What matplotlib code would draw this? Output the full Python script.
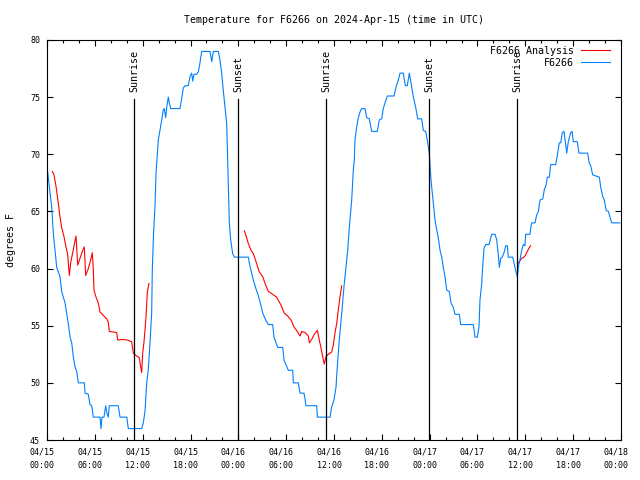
import numpy as np
import matplotlib
matplotlib.use('Agg')
import matplotlib.pyplot as plt
from matplotlib.transforms import ScaledTranslation

# hours since 2024-04-15 00:00 UTC, temperature in degrees F
obs_hours = [0.0, 0.38, 0.59, 0.79, 1.0, 1.22, 1.63, 1.84, 2.26, 2.47, 2.67, 2.89, 3.1, 3.3,
             3.51, 3.73, 3.93, 4.68, 4.77, 5.18, 5.39, 5.61, 5.81, 6.65, 6.77, 6.9, 7.15, 7.36,
             7.53, 7.69, 7.81, 8.94, 9.16, 10.0, 10.2, 11.88, 12.08, 12.29, 12.51, 12.71, 12.92,
             13.13, 13.21, 13.36, 13.55, 13.67, 13.84, 13.96, 14.17, 14.39, 14.59, 14.71, 14.89,
             15.01, 15.22, 15.34, 15.52, 16.68, 16.9, 17.1, 17.31, 17.72, 17.94, 18.15, 18.28,
             18.44, 18.78, 18.98, 19.19, 19.4, 20.45, 20.66, 20.86, 21.49, 21.7, 21.91, 22.11,
             22.33, 22.54, 22.62, 22.74, 22.87, 23.04, 23.29, 23.5, 25.25, 25.46, 25.68, 25.88,
             26.18, 26.43, 26.72, 27.06, 27.43, 27.76, 28.31, 28.47, 28.94, 29.57, 29.73, 30.27,
             30.82, 30.9, 31.52, 31.74, 32.24, 32.49, 33.83, 33.91, 35.5, 35.71, 36.0, 36.25,
             36.41, 36.67, 36.97, 37.25, 37.51, 37.72, 37.92, 38.22, 38.42, 38.55, 38.63, 38.85,
             39.05, 39.26, 39.48, 39.89, 40.1, 40.43, 40.73, 41.43, 41.68, 41.98, 42.18, 42.4,
             42.69, 43.53, 43.78, 44.07, 44.28, 44.69, 44.95, 45.19, 45.45, 45.75, 45.95, 46.25,
             46.5, 47.0, 47.2, 47.5, 47.7, 47.95, 48.17, 48.46, 48.67, 48.88, 49.08, 49.3, 49.51,
             49.71, 49.92, 50.14, 50.46, 50.68, 50.96, 51.18, 51.72, 51.89, 53.47, 53.69, 53.98,
             54.19, 54.31, 54.53, 54.65, 54.82, 55.03, 55.44, 55.66, 55.78, 56.2, 56.41, 56.61,
             56.74, 56.91, 57.11, 57.33, 57.54, 57.74, 57.86, 58.42, 58.58, 58.83, 58.99, 59.17,
             59.33, 59.54, 59.75, 59.96, 60.04, 60.59, 60.67, 60.8, 61.21, 61.43, 61.63, 61.84,
             62.18, 62.38, 62.59, 62.76, 63.01, 63.18, 63.81, 64.01, 64.26, 64.44, 64.64, 64.85,
             65.02, 65.19, 65.39, 65.69, 65.86, 66.02, 66.52, 66.73, 67.82, 68.02, 68.2, 68.45,
             69.28, 69.46, 69.71, 69.91, 70.13, 70.41, 70.62, 70.83, 71.87]
obs_temp = [69.0, 66.6, 65.4, 63.1, 61.6, 60.1, 59.3, 58.0, 57.0, 56.1, 55.2, 54.0, 53.5, 52.3,
            51.4, 51.0, 50.0, 50.0, 49.1, 49.0, 48.1, 48.0, 47.0, 47.0, 46.0, 47.0, 47.0, 48.0,
            47.3, 47.0, 48.0, 48.0, 47.0, 47.0, 46.0, 46.0, 46.5, 47.5, 50.0, 51.2, 53.5,
            56.1, 59.9, 63.0, 65.5, 68.3, 70.1, 71.25, 72.1, 73.0, 73.9, 74.0, 73.2,
            74.1, 75.0, 74.5, 74.0, 74.0, 74.9, 75.8, 76.0, 76.0, 76.8, 77.1, 76.4,
            77.0, 77.0, 77.2, 78.0, 79.0, 79.0, 78.1, 79.0, 79.0, 78.2, 77.1, 75.6,
            74.1, 72.7, 70.6, 67.5, 64.0, 62.5, 61.3, 61.0, 61.0, 60.2, 59.6, 59.0,
            58.3, 57.8, 57.1, 56.1, 55.5, 55.1, 55.1, 54.0, 53.1, 53.1, 52.0, 51.1,
            51.1, 50.0, 50.0, 49.1, 49.1, 48.0, 48.0, 47.0, 47.0, 47.9, 48.5, 49.6,
            51.4, 53.8, 56.1, 58.4, 60.2, 61.6, 63.6, 66.0, 68.6, 69.5, 71.25, 72.4,
            73.2, 73.7, 74.0, 74.0, 73.2, 73.1, 72.0, 72.0, 73.0, 73.1, 74.0, 74.5,
            75.1, 75.1, 75.9, 76.5, 77.1, 77.1, 76.0, 76.0, 77.1, 75.9, 75.0, 74.1,
            73.1, 73.1, 72.1, 72.0, 71.25, 70.1, 67.75, 65.7, 64.25, 63.4, 62.7, 61.6, 61.0,
            60.1, 59.3, 58.1, 58.0, 57.0, 56.6, 56.0, 56.0, 55.1, 55.1, 54.0, 54.0,
            54.9, 57.25, 58.7, 60.2, 61.8, 62.1, 62.1, 62.7, 63.0, 63.0, 62.5, 61.2,
            60.1, 60.9, 61.0, 61.4, 62.0, 62.0, 61.0, 61.0, 60.5, 59.7, 59.3, 60.3,
            60.75, 61.6, 62.1, 62.0, 63.0, 63.0, 63.5, 64.0, 64.0, 64.7, 65.0, 66.0,
            66.1, 66.9, 67.3, 68.0, 68.0, 69.1, 69.1, 69.9, 71.0, 71.0, 71.9, 72.0,
            71.1, 70.1, 71.1, 71.9, 72.0, 71.1, 71.1, 70.1, 70.1, 69.2, 69.0, 68.2,
            68.0, 67.1, 66.3, 66.0, 65.1, 65.0, 64.5, 64.0, 64.0]

# analysis runs (NaN separates the three runs)
ana_hours = [0.66, 0.88, 1.13, 1.42, 1.63, 1.84, 2.13, 2.38, 2.6, 2.8, 2.97, 3.17, 3.42, 3.64,
             3.85, 4.14, 4.48, 4.68, 4.85, 5.18, 5.48, 5.68, 5.81, 5.9, 6.15, 6.43, 6.65, 7.06,
             7.49, 7.69, 7.81, 8.74, 8.87, 9.37, 10.07, 10.62, 10.83, 11.25, 11.58, 11.75, 11.88,
             12.0, 12.17, 12.29, 12.42, 12.58, 12.79, np.nan,
             24.75, 24.96, 25.25, 25.59, 25.88, 26.22, 26.63, 27.06, 27.35, 27.76, 28.19, 28.81,
             29.35, 29.77, 30.19, 30.61, 30.98, 31.4, 31.74, 31.95, 32.36, 32.78, 32.9, 33.2,
             33.49, 33.91, 34.16, 34.37, 34.66, 34.78, 35.0, 35.29, 35.71, 35.91, 36.13, 36.34,
             36.54, 36.75, 36.97, np.nan,
             58.99, 59.24, 59.54, 59.83, 60.04, 60.25, 60.46, 60.67]
ana_temp = [68.5, 68.2, 67.2, 65.7, 64.5, 63.6, 62.8, 61.9, 61.2, 59.4, 60.5, 61.2, 62.1, 62.85,
            60.3, 60.9, 61.6, 61.9, 59.4, 60.0, 60.75, 61.4, 59.9, 58.1, 57.5, 57.0, 56.2, 55.9,
            55.6, 55.3, 54.5, 54.4, 53.75, 53.8, 53.75, 53.6, 52.6, 52.35, 52.2, 51.4, 50.9,
            52.6, 53.6, 54.6, 55.8, 57.9, 58.7, np.nan,
            63.3, 62.9, 62.2, 61.6, 61.3, 60.6, 59.7, 59.3, 58.7, 58.0, 57.8, 57.5,
            56.8, 56.1, 55.85, 55.5, 54.9, 54.5, 54.1, 54.5, 54.4, 54.1, 53.5, 53.8,
            54.2, 54.6, 53.75, 53.05, 52.0, 51.65, 52.3, 52.5, 52.7, 53.3, 54.4, 55.2,
            56.4, 57.5, 58.5, np.nan,
            60.4, 60.6, 60.9, 61.0, 61.2, 61.5, 61.8, 62.0]

event_hours = [10.95, 24.0, 35.0, 47.95, 58.98]
event_names = ['Sunrise', 'Sunset', 'Sunrise', 'Sunset', 'Sunrise']

xtick_hours = list(range(0, 73, 6))
xtick_labels = ['04/15\n00:00', '04/15\n06:00', '04/15\n12:00', '04/15\n18:00',
                '04/16\n00:00', '04/16\n06:00', '04/16\n12:00', '04/16\n18:00',
                '04/17\n00:00', '04/17\n06:00', '04/17\n12:00', '04/17\n18:00',
                '04/18\n00:00']

plt.rcParams['font.family'] = 'DejaVu Sans Mono'

fig = plt.figure(figsize=(6.4, 4.8), dpi=100)
ax = fig.add_axes([47 / 640, 40 / 480, 574 / 640, 400 / 480])

ax.plot(ana_hours, ana_temp, color='#ff0000', lw=0.8, label='F6266 Analysis')
ax.plot(obs_hours, obs_temp, color='#0080ff', lw=0.8, label='F6266')

# sunrise / sunset markers
for h, name in zip(event_hours, event_names):
    ax.axvline(h, ymin=0, ymax=0.8525, color='black', lw=0.9)
    ax.text(h, 0.87, name, transform=ax.get_xaxis_transform(), rotation=90,
            ha='center', va='bottom', fontsize=7.2)

ax.set_xlim(0, 72)
ax.set_ylim(45, 80)
ax.set_xticks(xtick_hours)
ax.set_xticklabels(xtick_labels, fontsize=6, linespacing=1.6)
ax.set_xticks(range(0, 73, 2), minor=True)
ax.set_yticks(range(45, 81, 5))
ax.tick_params(axis='y', labelsize=6)
ax.tick_params(which='both', direction='in', top=True, right=True, width=0.8)
ax.tick_params(which='major', length=4)
ax.tick_params(which='minor', length=2.5)
ax.tick_params(axis='x', pad=5.5)
ax.tick_params(axis='y', pad=5)
for sp in ax.spines.values():
    sp.set_linewidth(0.8)

shift = ScaledTranslation(-5 / 100, 0, fig.dpi_scale_trans)
for lbl in ax.get_xticklabels():
    lbl.set_transform(lbl.get_transform() + shift)

ax.set_title('Temperature for F6266 on 2024-Apr-15 (time in UTC)', fontsize=7.2, pad=12)
ax.set_ylabel('degrees F', fontsize=7.2)
ax.yaxis.set_label_coords(-31 / 574, 0.5)

ax.legend(loc='upper right', bbox_to_anchor=(563 / 574, 0.985), frameon=False,
          markerfirst=False, fontsize=7.2, handlelength=2.9, handletextpad=0.7,
          borderpad=0, borderaxespad=0, labelspacing=0.2)

fig.savefig('out.png', dpi=100)
